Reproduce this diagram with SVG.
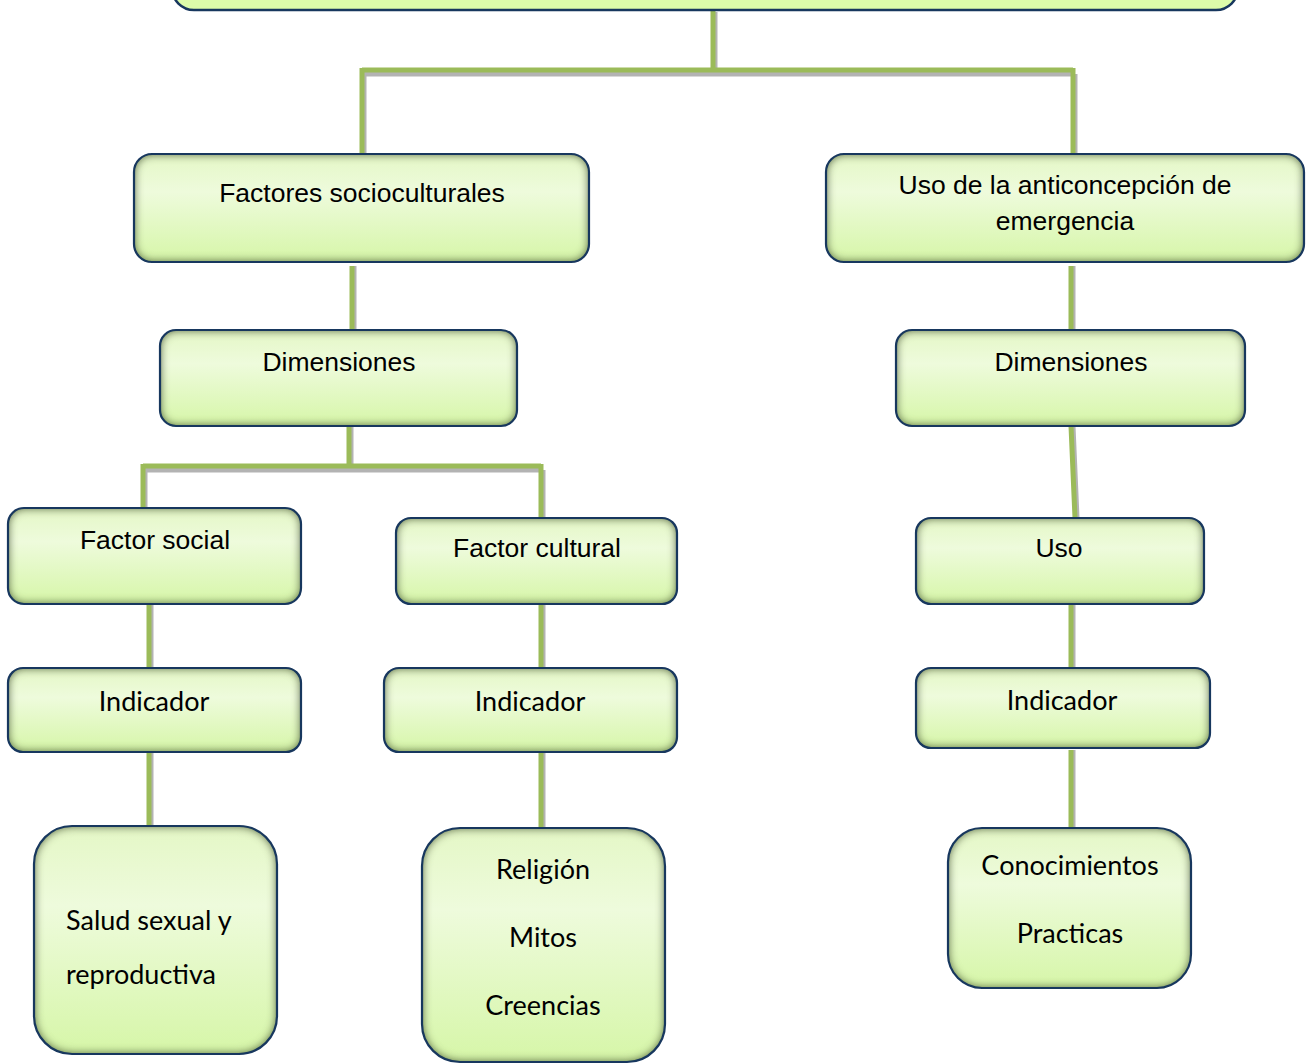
<svg xmlns="http://www.w3.org/2000/svg" width="1306" height="1064" viewBox="0 0 1306 1064">
<defs>
<linearGradient id="g" x1="0" y1="0" x2="0" y2="1">
<stop offset="0" stop-color="#e4f7c6"/>
<stop offset="0.35" stop-color="#eefbdc"/>
<stop offset="1" stop-color="#d6f6a8"/>
</linearGradient>
<filter id="inner" x="-20%" y="-40%" width="140%" height="180%">
<feFlood flood-color="#56683a" flood-opacity="0.9" result="f"/>
<feComposite in="f" in2="SourceAlpha" operator="out" result="o"/>
<feGaussianBlur in="o" stdDeviation="5" result="b"/>
<feComposite in="b" in2="SourceAlpha" operator="in" result="s"/>
<feMerge><feMergeNode in="SourceGraphic"/><feMergeNode in="s"/><feMergeNode in="s"/></feMerge>
</filter>
</defs>
<style>
.fill{fill:url(#g);filter:url(#inner);}
.bd{fill:none;stroke:#17375e;stroke-width:2.2;}
.ln{stroke:#9bbb59;stroke-width:5;fill:none;}
.sh{stroke:#a6a6a6;stroke-width:5;fill:none;opacity:0.85;}
.a{font-family:"Liberation Sans",Arial,sans-serif;font-size:26.5px;fill:#000;text-anchor:middle;}
.c{font-family:Lato,"Open Sans",sans-serif;font-size:27px;fill:#000;text-anchor:middle;}
.l{text-anchor:start;}
</style>
<g id="connectors">
<g class="sh">
<path d="M715 12V73M364 74H1075M364 74V154M1075 74V154"/>
<path d="M354 266V330M1073 266V330M351 426V470M145 470H543M145 470V508M543 470V518"/>
<path d="M1073 426L1077 518M151 604V668M151 752V826M543 604V668M543 752V828M1073 604V668M1073 750V828"/>
</g>
<g class="ln">
<path d="M713 10V70M362 70H1073M362 68V154M1073 68V154"/>
<path d="M352 266V330M1071 266V330M349 426V466M143 466H541M143 464V508M541 464V518"/>
<path d="M1071 426L1075 518M149 604V668M149 752V826M541 604V668M541 752V828M1071 604V668M1071 750V828"/>
</g>
</g>
<g id="top">
<rect x="172" y="-40" width="1066" height="50" rx="22" fill="#dcfcaa" stroke="#17375e" stroke-width="2.5"/>
</g>
<g id="n-factores">
<rect class="fill" x="134" y="154" width="455" height="108" rx="18"/>
<rect class="bd" x="134" y="154" width="455" height="108" rx="18"/>
<text class="a" x="362" y="202">Factores socioculturales</text>
</g>
<g id="n-uso-ae">
<rect class="fill" x="826" y="154" width="478" height="108" rx="18"/>
<rect class="bd" x="826" y="154" width="478" height="108" rx="18"/>
<text class="a" x="1065" y="194">Uso de la anticoncepción de</text>
<text class="a" x="1065" y="230">emergencia</text>
</g>
<g id="n-dim-l">
<rect class="fill" x="160" y="330" width="357" height="96" rx="16"/>
<rect class="bd" x="160" y="330" width="357" height="96" rx="16"/>
<text class="a" x="339" y="371">Dimensiones</text>
</g>
<g id="n-dim-r">
<rect class="fill" x="896" y="330" width="349" height="96" rx="16"/>
<rect class="bd" x="896" y="330" width="349" height="96" rx="16"/>
<text class="a" x="1071" y="371">Dimensiones</text>
</g>
<g id="n-fsocial">
<rect class="fill" x="8" y="508" width="293" height="96" rx="16"/>
<rect class="bd" x="8" y="508" width="293" height="96" rx="16"/>
<text class="a" x="155" y="549">Factor social</text>
</g>
<g id="n-fcultural">
<rect class="fill" x="396" y="518" width="281" height="86" rx="15"/>
<rect class="bd" x="396" y="518" width="281" height="86" rx="15"/>
<text class="a" x="537" y="557">Factor cultural</text>
</g>
<g id="n-uso">
<rect class="fill" x="916" y="518" width="288" height="86" rx="15"/>
<rect class="bd" x="916" y="518" width="288" height="86" rx="15"/>
<text class="a" x="1059" y="557">Uso</text>
</g>
<g id="n-ind-l">
<rect class="fill" x="8" y="668" width="293" height="84" rx="15"/>
<rect class="bd" x="8" y="668" width="293" height="84" rx="15"/>
<text class="c" x="154" y="711">Indicador</text>
</g>
<g id="n-ind-m">
<rect class="fill" x="384" y="668" width="293" height="84" rx="15"/>
<rect class="bd" x="384" y="668" width="293" height="84" rx="15"/>
<text class="c" x="530" y="711">Indicador</text>
</g>
<g id="n-ind-r">
<rect class="fill" x="916" y="668" width="294" height="80" rx="15"/>
<rect class="bd" x="916" y="668" width="294" height="80" rx="15"/>
<text class="c" x="1062" y="710">Indicador</text>
</g>
<g id="n-salud">
<rect class="fill" x="34" y="826" width="243" height="228" rx="38"/>
<rect class="bd" x="34" y="826" width="243" height="228" rx="38"/>
<text class="c l" x="66" y="930">Salud sexual y</text>
<text class="c l" x="66" y="984">reproductiva</text>
</g>
<g id="n-religion">
<rect class="fill" x="422" y="828" width="243" height="234" rx="38"/>
<rect class="bd" x="422" y="828" width="243" height="234" rx="38"/>
<text class="c" x="543" y="879">Religión</text>
<text class="c" x="543" y="947">Mitos</text>
<text class="c" x="543" y="1015">Creencias</text>
</g>
<g id="n-conoc">
<rect class="fill" x="948" y="828" width="243" height="160" rx="34"/>
<rect class="bd" x="948" y="828" width="243" height="160" rx="34"/>
<text class="c" x="1070" y="875">Conocimientos</text>
<text class="c" x="1070" y="943">Practicas</text>
</g>
</svg>
